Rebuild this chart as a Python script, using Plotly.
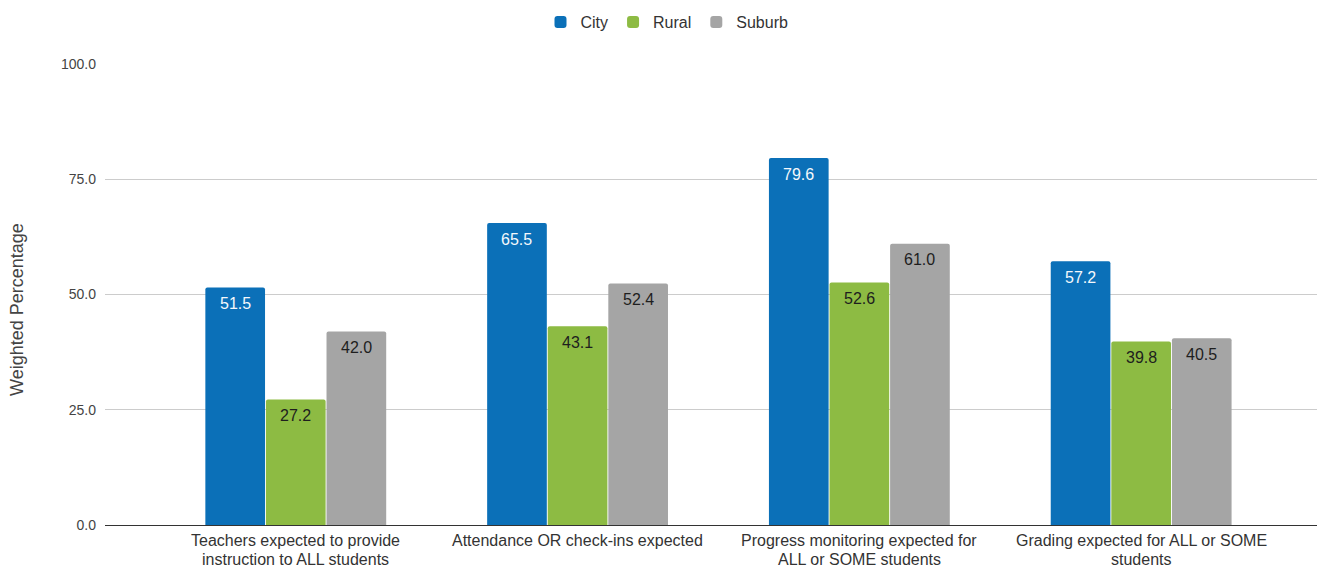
import plotly.graph_objects as go

categories = [
    "Teachers expected to provide<br>instruction to ALL students",
    "Attendance OR check-ins expected",
    "Progress monitoring expected for<br>ALL or SOME students",
    "Grading expected for ALL or SOME<br>students",
]
city = [51.5, 65.5, 79.6, 57.2]
rural = [27.2, 43.1, 52.6, 39.8]
suburb = [42.0, 52.4, 61.0, 40.5]

series = [
    ("City", city, "#0b70b8", "#f4f8fc"),
    ("Rural", rural, "#8dbb43", "#1e1e1e"),
    ("Suburb", suburb, "#a5a5a5", "#1e1e1e"),
]

FONT = "Liberation Sans, Arial, sans-serif"
BARGAP = 0.355

fig = go.Figure()
x_idx = list(range(len(categories)))
for name, vals, color, _ in series:
    fig.add_trace(go.Bar(
        name=name,
        x=x_idx,
        y=vals,
        marker=dict(color=color, line=dict(width=0), cornerradius=2),
        hoverinfo="skip",
    ))

# value labels placed just below the top of each bar
slot = (1 - BARGAP) / len(series)
annotations = []
for s, (name, vals, color, tcolor) in enumerate(series):
    offset = -(1 - BARGAP) / 2 + slot * (s + 0.5)
    for i, v in enumerate(vals):
        annotations.append(dict(
            x=i + offset, y=v, xref="x", yref="y",
            text=f"{v:.1f}", showarrow=False,
            yanchor="middle", yshift=-16,
            font=dict(family=FONT, size=16, color=tcolor),
        ))

# vertical axis title
annotations.append(dict(
    text="Weighted Percentage",
    xref="paper", yref="paper",
    x=(17 - 105) / 1212, y=(525 - 310) / 461,
    xanchor="center", yanchor="middle",
    textangle=-90, showarrow=False,
    font=dict(family=FONT, size=18, color="#444444"),
))

# category labels under the baseline, one annotation per line for tight spacing
LINE_SHIFTS = [-15, -34]
for i, label in enumerate(categories):
    for line, shift in zip(label.split("<br>"), LINE_SHIFTS):
        annotations.append(dict(
            text=line,
            x=i, xref="x",
            y=0, yref="y",
            yanchor="middle", yshift=shift,
            showarrow=False,
            font=dict(family=FONT, size=16, color="#333333"),
        ))

fig.update_layout(
    width=1334,
    height=567,
    margin=dict(l=105, r=17, t=64, b=42),
    paper_bgcolor="#ffffff",
    plot_bgcolor="#ffffff",
    barmode="group",
    bargap=BARGAP,
    bargroupgap=0.015,
    font=dict(family=FONT, color="#444444", size=16),
    showlegend=True,
    legend=dict(
        orientation="h",
        x=0.5, xanchor="center", xref="container",
        y=1 - 5 / 567, yanchor="top", yref="container",
        font=dict(family=FONT, size=16, color="#333333"),
        traceorder="normal",
    ),
    annotations=annotations,
)

fig.update_xaxes(
    range=[-0.677, 3.624],
    showticklabels=False,
    showgrid=False,
    showline=False,
    ticks="",
    automargin=False,
    fixedrange=True,
)
fig.update_yaxes(
    range=[0, 100],
    tickvals=[0, 25, 50, 75, 100],
    ticktext=["0.0", "25.0", "50.0", "75.0", "100.0"],
    showgrid=True,
    gridcolor="#cccccc",
    gridwidth=1,
    zeroline=True,
    zerolinecolor="#333333",
    zerolinewidth=1,
    ticks="",
    automargin=False,
    ticklabelstandoff=8,
    tickfont=dict(family=FONT, size=14, color="#444444"),
    fixedrange=True,
)

fig.write_html("out.html")
